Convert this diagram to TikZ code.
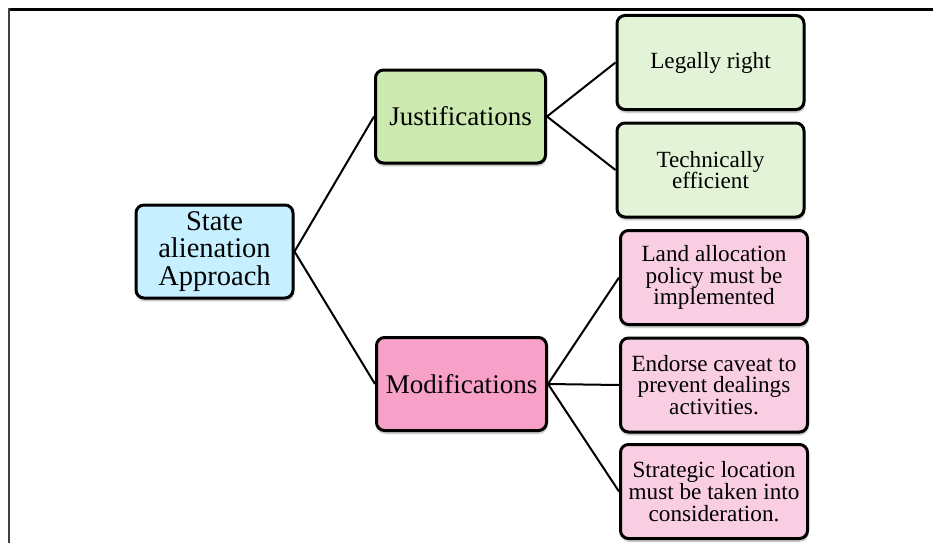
\documentclass[tikz,border=0pt]{standalone}
\usepackage{fontspec}
\setmainfont{Liberation Serif}
\usetikzlibrary{shadows.blur}
\definecolor{stateblue}{HTML}{C6F0FF}
\definecolor{justgreen}{HTML}{CCEAB0}
\definecolor{leafgreen}{HTML}{E2F3D7}
\definecolor{modpink}{HTML}{F7A0C8}
\definecolor{leafpink}{HTML}{F9CDE2}
\tikzset{
  box/.style={draw=black, line width=3pt, rounded corners=8pt, align=center,
    inner sep=0pt, blur shadow={shadow blur steps=6, shadow xshift=0.5pt, shadow yshift=-2.5pt, shadow opacity=35}},
  link/.style={line width=2pt},
  rootbox/.style={box, fill=stateblue, minimum width=157pt, minimum height=93pt,
    font=\fontsize{28.5}{27.5}\selectfont},
  midbox/.style={box, minimum width=170pt, minimum height=93pt,
    font=\fontsize{27}{26}\selectfont},
  leafbox/.style={box, minimum width=187pt, minimum height=94pt,
    font=\fontsize{23.2}{21.8}\selectfont},
}
\begin{document}
\begin{tikzpicture}[x=1pt,y=-1pt]
\useasboundingbox (0,0) rectangle (933,543);
\draw[line width=3pt] (7.5,10) -- (933,10);
\draw[line width=2.5pt, draw=black!75] (9,8.5) -- (9,543);
\node[rootbox] (state) at (214.5,251.5) {State\\alienation\\Approach};
\node[midbox, fill=justgreen] (just) at (460.5,116.5) {Justifications};
\node[midbox, fill=modpink] (mod) at (461.5,384) {Modifications};
\node[leafbox, fill=leafgreen] (legal) at (710.5,62.5) {Legally right};
\node[leafbox, fill=leafgreen] (tech) at (710.5,170) {Technically\\efficient};
\node[leafbox, fill=leafpink] (land) at (714,277.5) {Land allocation\\policy must be\\implemented};
\node[leafbox, fill=leafpink] (endorse) at (714,385) {Endorse caveat to\\prevent dealings\\activities.};
\node[leafbox, fill=leafpink] (strat) at (714,491.5) {Strategic location\\must be taken into\\consideration.};
\draw[link] (state.east) -- (just.west);
\draw[link] (state.east) -- (mod.west);
\draw[link] (just.east) -- (legal.west);
\draw[link] (just.east) -- (tech.west);
\draw[link] (mod.east) -- (land.west);
\draw[link] (mod.east) -- (endorse.west);
\draw[link] (mod.east) -- (strat.west);
\end{tikzpicture}
\end{document}
